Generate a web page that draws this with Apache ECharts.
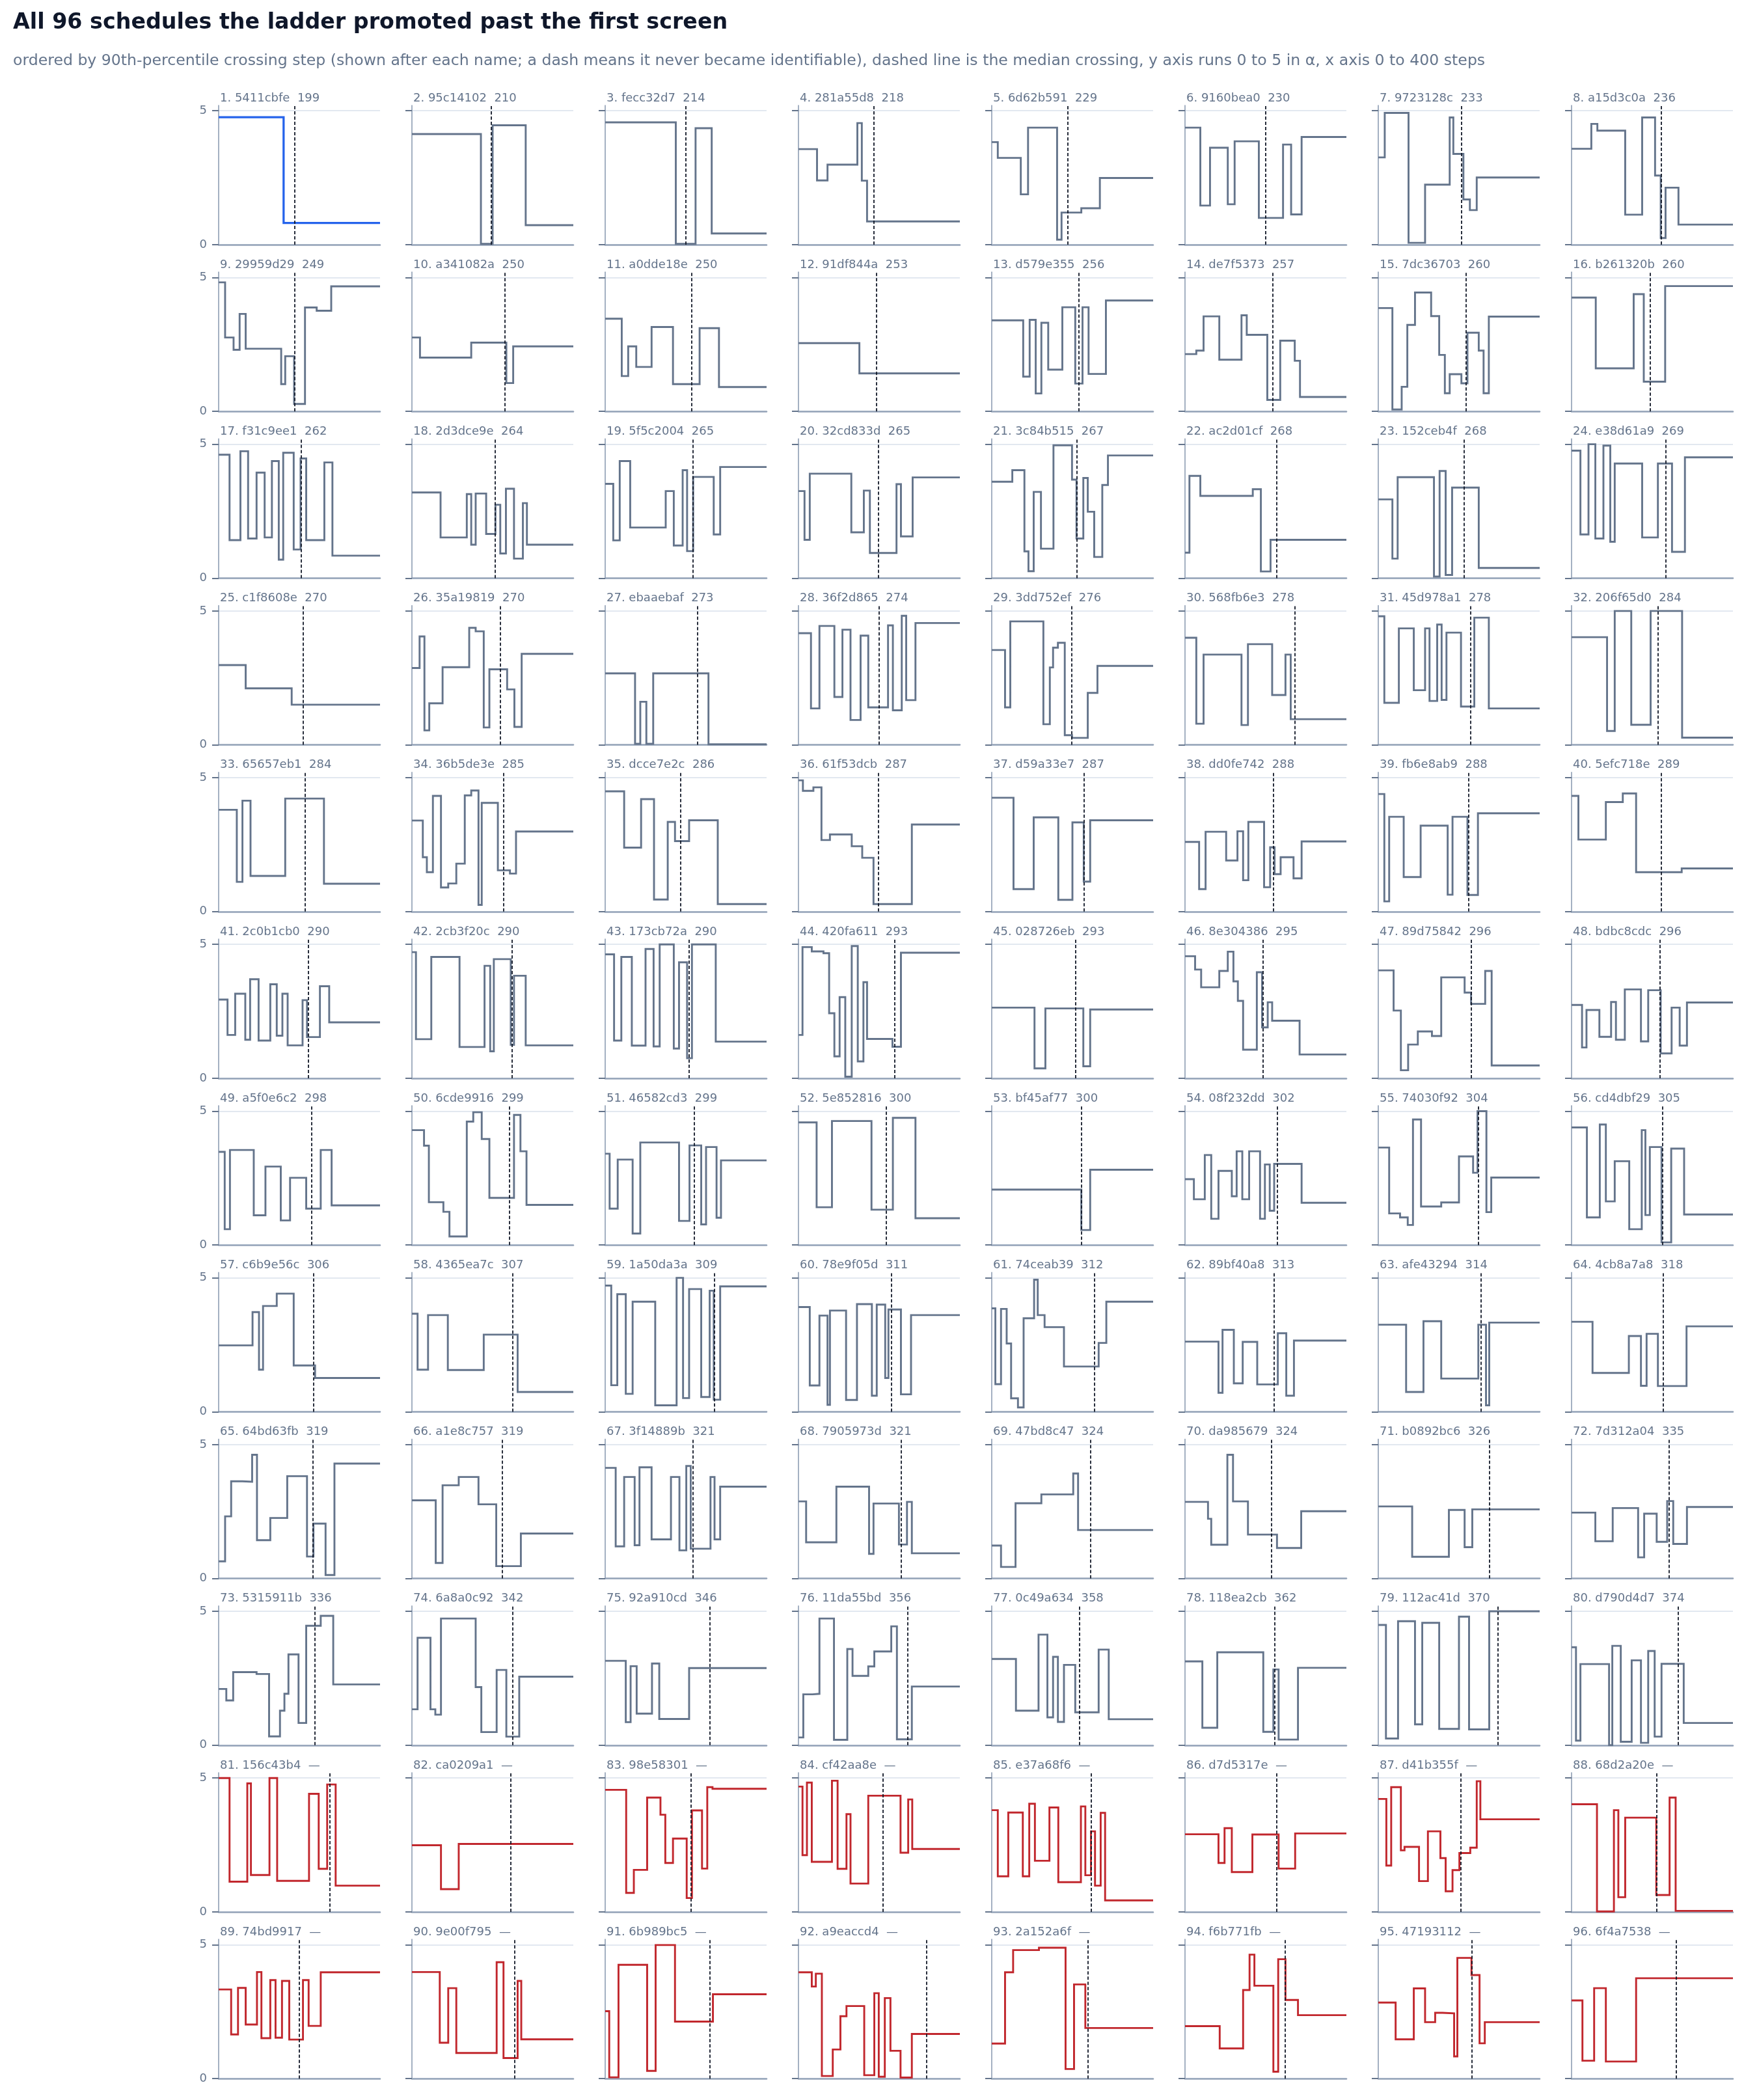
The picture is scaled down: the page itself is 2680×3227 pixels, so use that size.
<!DOCTYPE html>
<html>
<head>
<meta charset="utf-8">
<script src="https://cdn.jsdelivr.net/npm/echarts@6/dist/echarts.min.js"></script>
<style>
html,body{margin:0;padding:0;background:#fff;}
#chart{width:2680px;height:3227px;}
</style>
</head>
<body>
<div id="chart"></div>
<script>
const titleText = 'All 96 schedules the ladder promoted past the first screen';
const subtitleText = 'ordered by 90th-percentile crossing step (shown after each name; a dash means it never became identifiable), dashed line is the median crossing, y axis runs 0 to 5 in \u03b1, x axis 0 to 400 steps';

const names = ['5411cbfe','95c14102','fecc32d7','281a55d8','6d62b591','9160bea0','9723128c','a15d3c0a',
'29959d29','a341082a','a0dde18e','91df844a','d579e355','de7f5373','7dc36703','b261320b',
'f31c9ee1','2d3dce9e','5f5c2004','32cd833d','3c84b515','ac2d01cf','152ceb4f','e38d61a9',
'c1f8608e','35a19819','ebaaebaf','36f2d865','3dd752ef','568fb6e3','45d978a1','206f65d0',
'65657eb1','36b5de3e','dcce7e2c','61f53dcb','d59a33e7','dd0fe742','fb6e8ab9','5efc718e',
'2c0b1cb0','2cb3f20c','173cb72a','420fa611','028726eb','8e304386','89d75842','bdbc8cdc',
'a5f0e6c2','6cde9916','46582cd3','5e852816','bf45af77','08f232dd','74030f92','cd4dbf29',
'c6b9e56c','4365ea7c','1a50da3a','78e9f05d','74ceab39','89bf40a8','afe43294','4cb8a7a8',
'64bd63fb','a1e8c757','3f14889b','7905973d','47bd8c47','da985679','b0892bc6','7d312a04',
'5315911b','6a8a0c92','92a910cd','11da55bd','0c49a634','118ea2cb','112ac41d','d790d4d7',
'156c43b4','ca0209a1','98e58301','cf42aa8e','e37a68f6','d7d5317e','d41b355f','68d2a20e',
'74bd9917','9e00f795','6b989bc5','a9eaccd4','2a152a6f','f6b771fb','47193112','6f4a7538'];

const p90 = [199,210,214,218,229,230,233,236,249,250,250,253,256,257,260,260,
262,264,265,265,267,268,268,269,270,270,273,274,276,278,278,284,
284,285,286,287,287,288,288,289,290,290,290,293,293,295,296,296,
298,299,299,300,300,302,304,305,306,307,309,311,312,313,314,318,
319,319,321,321,324,324,326,335,336,342,346,356,358,362,370,374,
null,null,null,null,null,null,null,null,null,null,null,null,null,null,null,null];

const medianStep = [188,197,199,187,188,200,206,222,189,231,214,193,215,217,217,194,
204,206,217,198,211,227,212,233,210,219,228,199,198,272,228,214,
214,227,187,198,228,219,223,222,222,248,208,239,207,193,231,219,
231,241,220,217,222,228,248,225,235,250,271,230,254,221,254,227,
233,223,218,255,244,214,275,241,239,249,260,271,217,222,296,264,
276,244,213,209,246,227,205,211,199,255,260,318,238,248,232,259];

const stepSeries = [
[[0,4.76],[161,0.81],[400,0.81]],
[[0,4.13],[171,0.03],[200,4.46],[282,0.73],[400,0.73]],
[[0,4.57],[175,0.03],[224,4.35],[264,0.42],[400,0.42]],
[[0,3.57],[46,2.40],[72,2.99],[146,4.54],[157,2.39],[170,0.87],[400,0.87]],
[[0,3.83],[15,3.24],[72,1.88],[90,4.37],[162,0.19],[173,1.20],[222,1.36],[268,2.49],[400,2.49]],
[[0,4.37],[38,1.46],[62,3.62],[106,1.51],[123,3.86],[183,1.0],[243,3.74],[263,1.13],[289,4.02],[400,4.02]],
[[0,3.26],[16,4.92],[75,0.07],[116,2.24],[177,4.75],[186,3.39],[211,1.69],[227,1.29],[244,2.51],[400,2.51]],
[[0,3.58],[49,4.51],[64,4.26],[133,1.12],[175,4.75],[207,2.58],[221,0.25],[233,2.13],[265,0.75],[400,0.75]],
[[0,4.82],[16,2.76],[37,2.30],[52,3.64],[67,2.34],[155,1.02],[165,2.06],[187,0.28],[214,3.88],[243,3.76],[279,4.67],[400,4.67]],
[[0,2.76],[20,2.01],[147,2.57],[234,1.06],[251,2.43],[400,2.43]],
[[0,3.46],[41,1.32],[57,2.43],[77,1.66],[115,3.15],[168,1.02],[234,3.11],[282,0.91],[400,0.91]],
[[0,2.55],[151,1.42],[400,1.42]],
[[0,3.40],[78,1.30],[94,3.42],[109,0.67],[123,3.31],[140,1.56],[175,3.89],[207,1.04],[225,3.89],[240,1.40],[283,4.14],[400,4.14]],
[[0,2.14],[28,2.27],[46,3.55],[85,1.93],[140,3.59],[153,2.86],[204,0.43],[236,2.64],[272,1.89],[285,0.54],[400,0.54]],
[[0,3.86],[35,0.07],[58,0.92],[72,3.23],[91,4.44],[131,3.56],[151,2.11],[165,0.68],[177,1.39],[206,1.05],[221,2.94],[249,2.27],[261,0.68],[274,3.54],[400,3.54]],
[[0,4.25],[60,1.61],[154,4.38],[179,1.11],[232,4.68],[400,4.68]],
[[0,4.61],[27,1.42],[54,4.74],[73,1.48],[94,3.94],[114,1.52],[132,4.37],[149,0.69],[160,4.68],[186,1.07],[203,4.47],[217,1.42],[262,4.32],[282,0.84],[400,0.84]],
[[0,3.20],[71,1.52],[136,3.14],[147,1.25],[158,3.16],[184,1.65],[207,2.74],[219,0.92],[233,3.34],[253,0.73],[275,2.80],[285,1.25],[400,1.25]],
[[0,3.52],[20,1.41],[36,4.37],[62,1.89],[150,3.25],[170,1.22],[192,4.03],[203,1.01],[218,3.78],[269,1.63],[285,4.15],[400,4.15]],
[[0,3.25],[15,1.43],[28,3.90],[131,1.71],[162,3.27],[177,0.94],[243,3.51],[254,1.56],[283,3.76],[400,3.76]],
[[0,3.60],[51,4.03],[81,1.0],[91,0.26],[104,3.22],[122,1.10],[153,4.96],[199,3.68],[210,1.48],[227,3.74],[238,2.48],[254,0.79],[274,3.48],[288,4.58],[400,4.58]],
[[0,0.95],[11,3.82],[38,3.07],[168,3.32],[188,0.25],[212,1.43],[400,1.43]],
[[0,2.94],[35,0.73],[48,3.77],[138,0.06],[152,4.0],[167,0.12],[183,3.38],[249,0.38],[400,0.38]],
[[0,4.76],[22,1.63],[42,5.0],[59,1.48],[79,4.95],[96,1.36],[107,4.28],[175,1.52],[214,4.28],[249,0.98],[281,4.51],[400,4.51]],
[[0,2.98],[67,2.11],[181,1.50],[400,1.50]],
[[0,2.87],[19,4.05],[31,0.54],[43,1.55],[76,2.90],[142,4.37],[158,4.24],[178,0.65],[192,2.82],[236,2.07],[254,0.67],[272,3.40],[400,3.40]],
[[0,2.67],[74,0.04],[87,1.61],[102,0.04],[119,2.67],[256,0.02],[400,0.02]],
[[0,4.17],[31,1.36],[52,4.44],[89,1.79],[109,4.30],[129,0.93],[154,4.08],[173,1.40],[222,4.46],[234,1.29],[256,4.82],[267,1.67],[290,4.55],[400,4.55]],
[[0,3.54],[33,1.40],[46,4.61],[128,0.77],[144,2.89],[152,3.63],[164,3.81],[181,0.36],[199,0.26],[238,1.94],[262,2.95],[400,2.95]],
[[0,4.0],[28,0.79],[46,3.37],[140,0.74],[156,3.76],[216,1.86],[249,3.37],[262,0.96],[400,0.96]],
[[0,4.80],[15,1.57],[51,4.35],[88,2.04],[116,4.35],[127,1.64],[146,4.49],[157,1.68],[169,4.19],[205,1.43],[238,4.75],[274,1.36],[400,1.36]],
[[0,4.02],[88,0.52],[107,5.0],[148,0.75],[196,5.0],[274,0.27],[400,0.27]],
[[0,3.80],[45,1.11],[59,4.14],[79,1.33],[165,4.22],[261,1.04],[400,1.04]],
[[0,3.40],[27,2.03],[37,1.47],[52,4.32],[72,0.90],[90,1.05],[110,1.79],[131,4.34],[147,4.52],[165,0.25],[173,4.06],[213,1.54],[243,1.42],[258,2.99],[400,2.99]],
[[0,4.49],[47,2.39],[89,4.20],[121,0.45],[155,3.35],[173,2.63],[208,3.41],[279,0.28],[400,0.28]],
[[0,4.90],[11,4.51],[37,4.64],[57,2.67],[78,2.88],[132,2.44],[158,2.01],[186,0.28],[281,3.25],[400,3.25]],
[[0,4.25],[54,0.84],[104,3.52],[165,0.44],[200,3.33],[228,1.12],[244,3.41],[400,3.41]],
[[0,2.60],[35,0.84],[51,2.98],[102,1.91],[130,3.0],[144,1.17],[157,3.35],[196,0.91],[211,2.40],[222,1.40],[237,2.03],[269,1.24],[289,2.62],[400,2.62]],
[[0,4.39],[15,0.38],[27,3.54],[63,1.29],[105,3.21],[172,0.63],[184,3.54],[221,0.62],[247,3.67],[400,3.67]],
[[0,4.32],[17,2.69],[85,4.09],[127,4.41],[160,1.47],[273,1.61],[400,1.61]],
[[0,2.94],[22,1.62],[41,3.16],[66,1.44],[78,3.70],[99,1.41],[128,3.51],[144,1.59],[158,3.16],[171,1.23],[208,2.92],[219,1.54],[251,3.44],[274,2.09],[400,2.09]],
[[0,4.71],[10,1.46],[48,4.53],[118,1.17],[180,4.20],[194,1.01],[203,4.45],[245,1.25],[253,3.83],[282,1.23],[400,1.23]],
[[0,4.63],[22,1.41],[40,4.53],[66,1.22],[100,4.83],[120,1.19],[135,5.0],[170,1.11],[183,4.33],[203,0.75],[215,5.0],[274,1.37],[400,1.37]],
[[0,1.62],[10,4.90],[33,4.74],[62,4.67],[76,2.43],[89,0.82],[102,3.03],[116,0.06],[132,4.94],[147,0.63],[161,3.59],[170,1.47],[233,1.18],[254,4.69],[400,4.69]],
[[0,2.64],[106,0.37],[133,2.61],[227,0.45],[244,2.57],[400,2.57]],
[[0,4.56],[25,4.06],[40,3.40],[85,4.01],[106,4.73],[120,3.62],[131,2.89],[144,1.07],[178,3.96],[191,1.90],[205,2.84],[216,2.15],[284,0.89],[400,0.89]],
[[0,4.03],[38,2.53],[56,0.30],[74,1.26],[98,1.75],[133,1.58],[156,3.77],[214,3.20],[230,2.78],[265,4.01],[281,0.48],[400,0.48]],
[[0,2.74],[26,1.15],[37,2.55],[69,1.55],[98,2.85],[110,1.44],[132,3.32],[172,1.38],[190,3.29],[221,0.93],[248,2.64],[268,1.22],[286,2.83],[400,2.83]],
[[0,3.48],[15,0.59],[28,3.55],[87,1.11],[116,2.93],[154,0.92],[177,2.51],[217,1.36],[253,3.55],[280,1.48],[400,1.48]],
[[0,4.29],[30,3.71],[42,1.60],[78,1.24],[93,0.32],[136,4.61],[152,4.96],[173,3.96],[192,1.76],[253,4.86],[269,3.50],[284,1.50],[400,1.50]],
[[0,3.41],[11,1.36],[31,3.19],[68,0.43],[87,3.83],[183,0.90],[209,3.72],[238,0.77],[250,3.66],[276,1.02],[287,3.16],[400,3.16]],
[[0,4.58],[45,1.41],[83,4.63],[181,1.32],[234,4.75],[290,1.0],[400,1.0]],
[[0,2.07],[222,0.56],[244,2.81],[400,2.81]],
[[0,2.46],[22,1.71],[49,3.36],[65,0.98],[83,2.77],[116,1.82],[128,3.50],[142,1.71],[159,3.50],[186,0.98],[198,3.01],[210,1.28],[221,3.03],[289,1.58],[400,1.58]],
[[0,3.64],[27,1.18],[54,1.03],[73,0.75],[86,4.69],[106,1.44],[156,1.59],[200,3.31],[235,2.70],[246,5.0],[268,1.23],[280,2.52],[400,2.52]],
[[0,4.39],[38,1.03],[70,4.50],[85,1.63],[107,3.13],[143,0.59],[174,4.29],[183,1.12],[194,3.66],[223,0.10],[247,3.60],[279,1.14],[400,1.14]],
[[0,2.48],[84,3.72],[100,1.57],[110,3.95],[144,4.41],[186,1.73],[239,1.26],[400,1.26]],
[[0,3.66],[14,1.57],[40,3.61],[89,1.56],[178,2.88],[262,0.74],[400,0.74]],
[[0,4.71],[15,0.99],[30,4.39],[51,0.67],[68,4.11],[124,0.24],[177,5.0],[193,0.51],[208,4.58],[238,0.55],[259,4.52],[269,0.45],[285,4.68],[400,4.68]],
[[0,3.91],[28,0.98],[52,3.59],[72,0.26],[78,3.78],[118,0.44],[145,4.02],[182,0.60],[194,4.0],[215,1.26],[223,3.82],[254,0.65],[279,3.61],[400,3.61]],
[[0,3.86],[9,1.03],[23,3.84],[37,2.55],[48,0.50],[65,0.16],[79,3.49],[105,4.93],[114,3.61],[131,3.16],[179,1.69],[265,2.57],[284,4.11],[400,4.11]],
[[0,2.62],[83,0.71],[93,3.06],[121,1.06],[143,2.61],[179,1.02],[230,2.93],[251,0.60],[270,2.66],[400,2.66]],
[[0,3.25],[69,0.74],[112,3.38],[156,1.24],[248,3.25],[267,0.24],[275,3.33],[400,3.33]],
[[0,3.36],[52,1.45],[142,2.83],[172,0.97],[186,2.91],[214,0.96],[285,3.19],[400,3.19]],
[[0,0.64],[16,2.32],[31,3.63],[59,3.61],[83,4.62],[95,1.43],[128,2.26],[170,3.82],[219,0.82],[235,2.05],[265,0.13],[287,4.29],[400,4.29]],
[[0,2.92],[59,0.58],[76,3.48],[116,3.79],[165,2.77],[209,0.46],[270,1.68],[400,1.68]],
[[0,4.13],[26,1.20],[47,3.79],[73,1.24],[85,4.15],[115,1.46],[163,3.79],[184,1.05],[201,4.20],[212,1.11],[261,3.79],[271,1.46],[285,3.43],[400,3.43]],
[[0,2.88],[19,1.35],[94,3.43],[175,0.92],[186,2.80],[249,1.27],[269,2.86],[281,0.94],[400,0.94]],
[[0,1.23],[23,0.43],[59,2.81],[123,3.14],[202,3.92],[214,1.81],[400,1.81]],
[[0,2.86],[57,2.23],[65,1.26],[105,4.62],[119,2.88],[156,1.64],[228,1.14],[288,2.51],[400,2.51]],
[[0,2.69],[84,0.81],[175,2.56],[214,1.17],[233,2.58],[400,2.58]],
[[0,2.46],[59,1.39],[102,2.63],[165,0.79],[180,2.42],[211,1.37],[237,2.89],[252,1.29],[286,2.67],[400,2.67]],
[[0,2.10],[19,1.67],[36,2.73],[94,2.66],[125,0.33],[152,1.29],[163,1.92],[173,3.39],[198,0.83],[217,4.46],[253,4.83],[284,2.27],[400,2.27]],
[[0,1.34],[14,4.01],[46,1.34],[58,1.14],[72,4.73],[158,2.17],[172,0.49],[210,2.81],[234,0.32],[266,2.56],[400,2.56]],
[[0,3.15],[51,0.86],[63,2.95],[78,1.18],[116,3.05],[134,0.98],[208,2.88],[400,2.88]],
[[0,0.29],[12,1.90],[35,1.92],[52,4.73],[88,0.20],[121,3.59],[134,2.59],[173,2.94],[188,3.50],[230,4.44],[244,0.22],[281,2.19],[400,2.19]],
[[0,3.22],[60,1.29],[116,4.13],[138,1.04],[152,3.30],[164,0.87],[179,3.0],[207,1.23],[265,3.57],[290,0.97],[400,0.97]],
[[0,3.13],[43,0.65],[80,3.47],[194,0.50],[219,2.83],[232,0.21],[280,2.89],[400,2.89]],
[[0,4.49],[19,0.25],[49,4.63],[91,0.78],[109,4.57],[151,0.61],[200,4.80],[225,0.59],[275,5.0],[400,5.0]],
[[0,3.66],[11,0.17],[22,3.03],[93,0.0],[101,3.71],[122,0.13],[149,3.17],[172,0.09],[190,3.52],[206,0.32],[223,3.04],[278,0.83],[400,0.83]],
[[0,5.0],[27,1.13],[71,4.80],[80,1.38],[126,5.0],[145,1.16],[224,4.41],[248,1.61],[269,4.76],[290,0.98],[400,0.98]],
[[0,2.49],[72,0.85],[116,2.54],[400,2.54]],
[[0,4.56],[52,0.71],[71,1.57],[104,4.27],[137,3.63],[149,1.83],[168,2.74],[202,0.52],[215,3.79],[240,1.62],[253,4.66],[266,4.60],[400,4.60]],
[[0,4.68],[10,2.12],[21,4.83],[33,1.87],[83,4.90],[97,1.61],[119,3.65],[129,1.06],[173,4.34],[253,2.21],[272,4.20],[282,2.35],[400,2.35]],
[[0,3.80],[15,1.33],[41,3.71],[77,1.33],[93,4.04],[107,1.91],[143,3.90],[165,1.11],[221,3.94],[232,1.37],[246,3.01],[256,0.98],[270,3.70],[281,0.43],[400,0.43]],
[[0,2.90],[83,1.83],[98,3.13],[116,1.49],[167,2.89],[232,1.62],[273,2.93],[400,2.93]],
[[0,4.22],[20,1.73],[32,4.66],[56,2.30],[65,2.43],[101,1.15],[123,3.01],[154,2.01],[167,0.77],[184,1.56],[201,2.20],[228,2.40],[244,4.88],[253,3.46],[400,3.46]],
[[0,4.02],[63,0.02],[105,3.80],[116,0.55],[133,3.52],[210,0.63],[243,4.27],[258,0.04],[400,0.04]],
[[0,3.33],[31,1.65],[48,3.39],[67,2.02],[95,3.98],[106,1.51],[128,3.68],[141,1.53],[157,3.65],[175,1.46],[209,3.68],[223,1.97],[253,3.97],[400,3.97]],
[[0,3.98],[69,1.34],[90,3.38],[110,0.96],[210,4.35],[227,0.77],[262,3.65],[271,1.47],[400,1.47]],
[[0,2.52],[10,0.05],[33,4.25],[104,0.29],[125,4.99],[173,2.13],[267,3.15],[400,3.15]],
[[0,3.97],[33,3.44],[43,3.92],[58,0.10],[85,1.09],[104,2.33],[119,2.71],[163,0.13],[188,3.19],[199,0.07],[214,3.01],[228,1.04],[253,0.04],[281,1.67],[400,1.67]],
[[0,1.31],[33,3.97],[53,4.80],[117,4.89],[183,0.36],[204,3.52],[232,1.89],[400,1.89]],
[[0,1.96],[86,1.13],[144,3.31],[160,4.63],[172,3.47],[219,0.26],[231,4.46],[249,2.94],[280,2.37],[400,2.37]],
[[0,2.84],[43,1.47],[88,3.37],[116,2.11],[141,2.46],[159,2.44],[188,0.83],[196,4.51],[231,3.87],[251,1.32],[264,2.11],[400,2.11]],
[[0,2.92],[27,0.67],[56,3.38],[85,0.64],[160,3.75],[400,3.75]]
];

const yTicks = [0, 5];
const xRange = [0, 400];
const yRange = [0, 5.2];

const FONT = '"DejaVu Sans", "Noto Sans", sans-serif';
const COLS = 8;
const GRID_LEFT0 = 336, COL_STEP = 297, PANEL_W = 248;
const ZERO_Y0 = 376, ROW_STEP = 256.2, PANEL_H = 214;

const grids = [], xAxes = [], yAxes = [], series = [], graphics = [];

graphics.push({type:'text', x:20, y:35, style:{text:titleText, fill:'#0f172a', fontSize:33.3, fontWeight:'bold', fontFamily:FONT, verticalAlign:'middle'}});
graphics.push({type:'text', x:20, y:94, style:{text:subtitleText, fill:'#64748b', fontSize:23.6, fontFamily:FONT, verticalAlign:'middle'}});

for (let i = 0; i < names.length; i++) {
  const r = Math.floor(i / COLS), c = i % COLS;
  const left = GRID_LEFT0 + COL_STEP * c;
  const top = ZERO_Y0 + ROW_STEP * r - PANEL_H;
  grids.push({left: left, top: top, width: PANEL_W, height: PANEL_H, show: false});
  xAxes.push({
    type:'value', gridIndex:i, min:xRange[0], max:xRange[1],
    axisLine:{show:true, onZero:false, lineStyle:{color:'#94a3b8', width:2.5}},
    axisTick:{show:false}, axisLabel:{show:false}, splitLine:{show:false}
  });
  yAxes.push({
    type:'value', gridIndex:i, min:yRange[0], max:yRange[1],
    axisLine:{show:true, lineStyle:{color:'#94a3b8', width:1.7}},
    axisTick:{show:true, customValues:yTicks, length:10, lineStyle:{color:'#64748b', width:2}},
    axisLabel:{show: c === 0, customValues:yTicks, color:'#64748b', fontSize:18, fontFamily:FONT, margin:18},
    splitLine:{show:true, lineStyle:{color:'#e2e8f0', width:2.2}}
  });
  const color = i === 0 ? '#2563eb' : (p90[i] === null ? '#c1272d' : '#64748b');
  series.push({
    type:'line', xAxisIndex:i, yAxisIndex:i, step:'end', data: stepSeries[i],
    symbol:'none', showSymbol:false, silent:true, z:3,
    lineStyle:{color: color, width: i === 0 ? 3.3 : 2.9, join:'miter', cap:'butt'},
    markLine:{
      silent:true, symbol:'none', label:{show:false}, animation:false,
      lineStyle:{color:'#111827', width:1.8, type:[5,3]},
      data:[{xAxis: medianStep[i]}]
    }
  });
  const lbl = (i + 1) + '. ' + names[i] + '  ' + (p90[i] === null ? '\u2014' : String(p90[i]));
  graphics.push({type:'text', x:left + 2, y:top - 11, style:{text:lbl, fill:'#64748b', fontSize:18, fontFamily:FONT, verticalAlign:'middle'}});
}

const chart = echarts.init(document.getElementById('chart'), null, {renderer:'canvas', width:2680, height:3227});
chart.setOption({
  backgroundColor:'#ffffff',
  animation:false,
  grid: grids, xAxis: xAxes, yAxis: yAxes, series: series, graphic: graphics
});
</script>
</body>
</html>
